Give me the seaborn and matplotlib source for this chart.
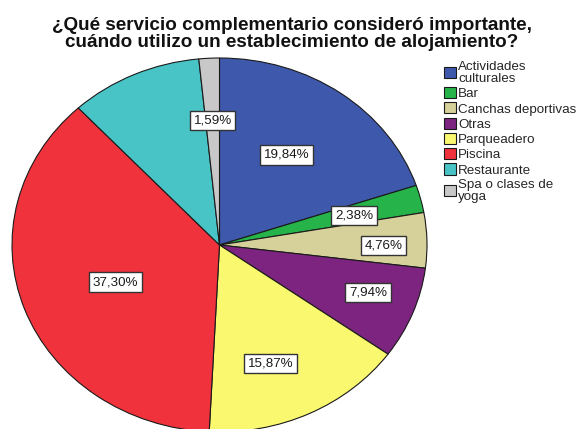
"""Pie chart: servicio complementario considerado importante."""

import matplotlib

matplotlib.use("Agg", force=True)

import matplotlib.pyplot as plt
import numpy as np
import seaborn as sns

categories = [
    "Actividades\nculturales",
    "Bar",
    "Canchas deportivas",
    "Otras",
    "Parqueadero",
    "Piscina",
    "Restaurante",
    "Spa o clases de\nyoga",
]
percentages = [19.84, 2.38, 4.76, 7.94, 15.87, 37.30, 10.32, 1.59]
show_label = [True, True, True, True, True, True, False, True]

title = (
    "¿Qué servicio complementario consideró importante,\n"
    "cuándo utilizo un establecimiento de alojamiento?"
)

colors = sns.color_palette(
    ["#3E58AC", "#26B44A", "#D6D09A", "#7C2480",
     "#FAF86E", "#F0323C", "#48C4C6", "#C8C8C8"]
)

# label placement inside each wedge: radius (fraction) and angle shift (deg)
label_radius = [0.58, 0.667, 0.79, 0.76, 0.68, 0.54, 0.6, 0.668]
label_shift = [2, -0.6, -1.6, 1.9, -4.4, 1.5, 0, 0]

sns.set_theme(style="white")
plt.rcParams["font.family"] = ["Liberation Sans", "DejaVu Sans"]

fig = plt.figure(figsize=(5.84, 4.29), dpi=100)
W, H = 584, 429
# pie is drawn slightly stretched (ellipse) and runs off the bottom edge
ax = fig.add_axes([12 / W, -3 / H, 415 / W, 374 / H])

wedges, _ = ax.pie(
    percentages,
    colors=colors,
    startangle=90,
    counterclock=False,
    wedgeprops={"edgecolor": "#1a1a1a", "linewidth": 0.8},
)
ax.set_aspect("auto")
ax.set_xlim(-1, 1)
ax.set_ylim(-1, 1)
ax.axis("off")

for wedge, pct, show, r, shift in zip(
    wedges, percentages, show_label, label_radius, label_shift
):
    if not show:
        continue
    mid = np.deg2rad((wedge.theta1 + wedge.theta2) / 2 + shift)
    ax.text(
        r * np.cos(mid),
        r * np.sin(mid),
        f"{pct:.2f}%".replace(".", ","),
        ha="center",
        va="center",
        fontsize=9.6,
        color="#1a1a1a",
        bbox=dict(boxstyle="square,pad=0.28", fc="white", ec="#333333", lw=1.0),
    )

fig.text(
    0.5, 1 - 34 / H, title,
    ha="center", va="center", fontsize=13.6, fontweight="bold",
    linespacing=0.96, color="#111111",
)

leg = fig.legend(
    wedges,
    categories,
    loc="upper left",
    bbox_to_anchor=(444 / W, 1 - 61 / H),
    frameon=False,
    fontsize=9.6,
    handlelength=0.9,
    handleheight=0.9,
    handletextpad=0.15,
    labelspacing=0.16,
    borderpad=0,
    borderaxespad=0,
)
for txt in leg.get_texts():
    txt.set_linespacing(1.0)

fig.savefig("out.png", dpi=100)
